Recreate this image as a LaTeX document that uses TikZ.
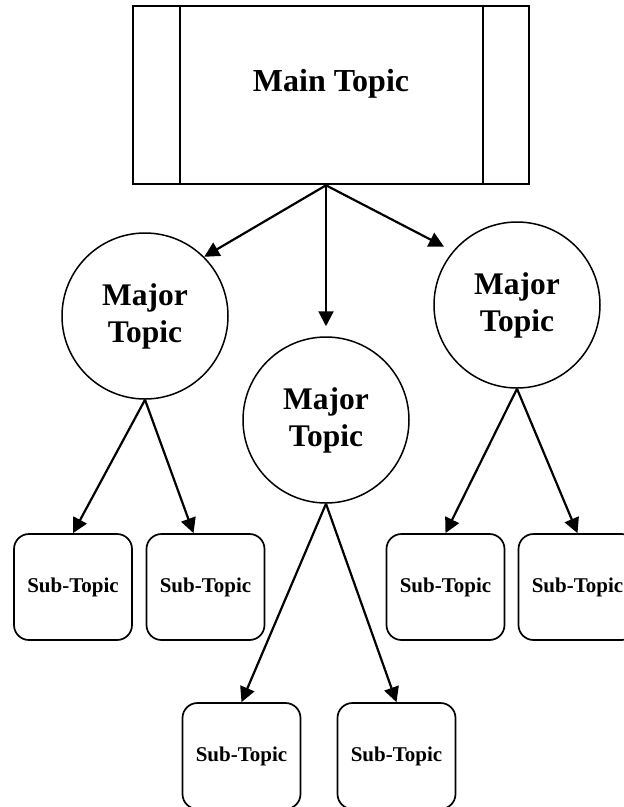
\documentclass[tikz,border=0pt]{standalone}
\usepackage{fontspec}
\setmainfont{Liberation Serif}
\usetikzlibrary{arrows.meta}
\begin{document}
\begin{tikzpicture}[x=1pt,y=-1pt,
  mainbox/.style={draw,line width=2.6pt,minimum width=396pt,minimum height=178pt,inner sep=0pt},
  majorc/.style={draw,circle,line width=1.5pt,minimum size=166pt,inner sep=0pt,align=center,font=\bfseries\fontsize{31.5}{37}\selectfont},
  subbox/.style={draw,rounded corners=15pt,line width=1.7pt,minimum width=118pt,minimum height=106pt,inner sep=0pt,font=\bfseries\fontsize{21}{25}\selectfont},
  arr/.style={line width=2.2pt,-{Triangle[length=15pt,width=15pt]}},
  lbl/.style={font=\bfseries\fontsize{32}{37}\selectfont}]
\useasboundingbox (0,0) rectangle (624,807);
\node[mainbox] (main) at (331,95) {};
\node[lbl] (maintxt) at (331,84) {Main Topic};
\draw[line width=1.8pt] ([xshift=48pt]main.north west) -- ([xshift=48pt]main.south west);
\draw[line width=1.8pt] ([xshift=-47pt]main.north east) -- ([xshift=-47pt]main.south east);
\node[majorc] (left) at (145,316) {Major\\Topic};
\node[majorc] (mid) at (326,420) {Major\\Topic};
\node[majorc] (right) at (517,305) {Major\\Topic};
\coordinate (mainout) at ([xshift=-5pt]main.south);
\draw[arr] (mainout) -- (left.45);
\draw[arr,shorten >=10pt] (mainout) -- (mid.north);
\draw[arr,shorten >=10pt] (mainout) -- (right.140);
\node[subbox] (s1) at (73,587) {Sub-Topic};
\node[subbox] (s2) at (205.5,587) {Sub-Topic};
\node[subbox] (s3) at (445.5,587) {Sub-Topic};
\node[subbox] (s4) at (577.5,587) {Sub-Topic};
\node[subbox] (s5) at (241.5,756) {Sub-Topic};
\node[subbox] (s6) at (396.5,756) {Sub-Topic};
\draw[arr] (left.south) -- (s1.north);
\draw[arr] (left.south) -- ([xshift=-12pt]s2.north);
\draw[arr] (mid.south) -- (s5.north);
\draw[arr] (mid.south) -- (s6.north);
\draw[arr] (right.south) -- (s3.north);
\draw[arr] (right.south) -- (s4.north);
\end{tikzpicture}
\end{document}
